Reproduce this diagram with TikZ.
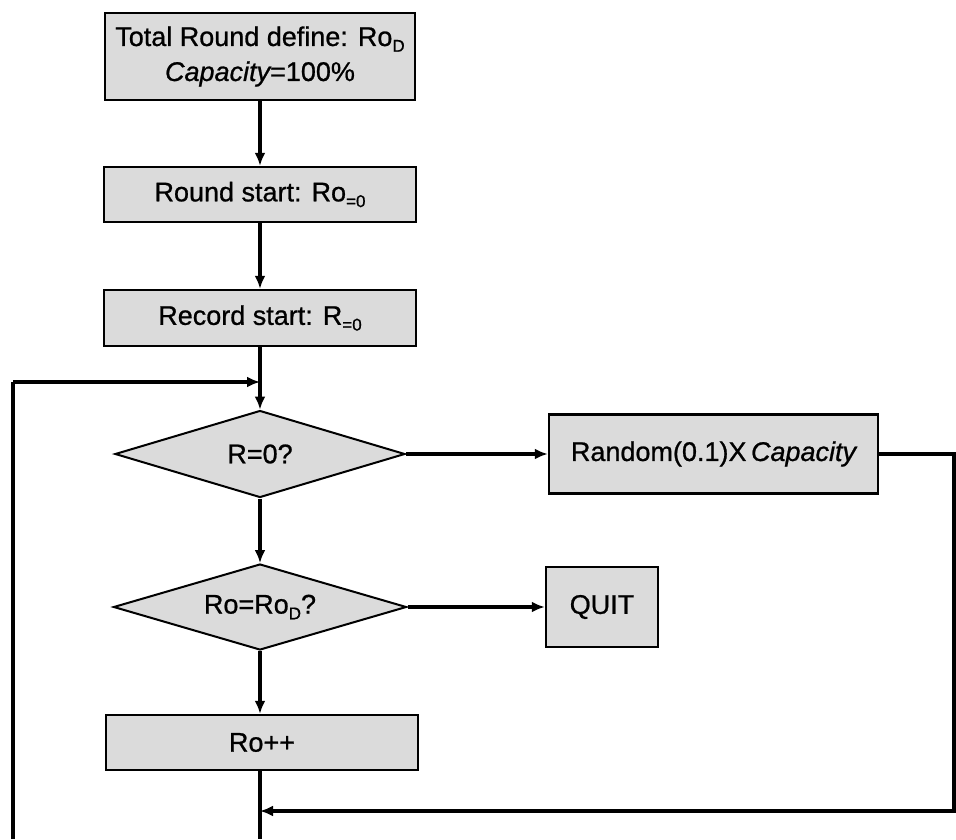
\documentclass[tikz,border=0pt]{standalone}
\usepackage{fontspec}
\setmainfont{Liberation Sans}
\usetikzlibrary{arrows.meta,shapes.geometric}
\newcommand\lowsub[1]{\raisebox{-0.4ex}{\fontsize{17}{17}\selectfont #1}}
\newcommand\heavier{\addfontfeature{FakeBold=0.8}}
\begin{document}
\begin{tikzpicture}[x=1pt,y=-1pt,
  box/.style={draw=black, line width=2.4pt, fill=gray!28, inner sep=0pt,
    font=\fontsize{27}{35}\selectfont\heavier, align=center},
  dia/.style={draw=black, line width=2pt, fill=gray!28, shape=diamond,
    inner sep=0pt, aspect=3.35, font=\fontsize{27}{30}\selectfont\heavier},
  conn/.style={line width=3.6pt, -{Latex[length=13pt,width=11pt]}},
  plainline/.style={line width=3.6pt}]
\useasboundingbox (0,0) rectangle (956,839);
\node[box, minimum width=310pt, minimum height=87pt] (b1) at (260,56.5)
  {Total Round define: Ro\lowsub{D}\\{\itshape\heavier Capacity}=100\%};
\node[box, minimum width=312pt, minimum height=55pt] (b2) at (260,194.5)
  {Round start: Ro\lowsub{=0}};
\node[box, minimum width=312pt, minimum height=56pt] (b3) at (260,318)
  {Record start: R\lowsub{=0}};
\node[dia, minimum width=290pt, minimum height=87pt] (d1) at (260,454) {R=0?};
\node[dia, minimum width=293pt, minimum height=86pt] (d2) at (260,607)
  {Ro=Ro\lowsub{D}?};
\node[box, minimum width=312pt, minimum height=55pt] (rp) at (262,742.5) {Ro++};
\node[box, minimum width=329pt, minimum height=79pt] (r1) at (713.5,454)
  {Random(0.1)X\,{\itshape\heavier Capacity}};
\node[box, minimum width=112pt, minimum height=80pt] (q) at (602,607) {QUIT};

\coordinate (lt) at (13,382);
\coordinate (lb) at (13,839);
\coordinate (j1) at (260,382);
\coordinate (rc1) at (954,454);
\coordinate (rc2) at (954,811);
\coordinate (j2) at (260,811);
\coordinate (bb) at (260,839);

\draw[conn] (b1) -- (b2);
\draw[conn] (b2) -- (b3);
\draw[conn] (b3) -- (d1);
\draw[conn] (d1) -- (d2);
\draw[conn] (d2) -- (d2 |- rp.north);
\draw[plainline] (rp.south -| bb) -- (bb);
\draw[plainline] (lb) -- (lt);
\draw[conn] (lt) -- (j1);
\draw[conn] (d1) -- (r1);
\draw[conn] (d2) -- (q);
\draw[conn] (r1) -- (rc1) -- (rc2) -- (j2);
\end{tikzpicture}
\end{document}
